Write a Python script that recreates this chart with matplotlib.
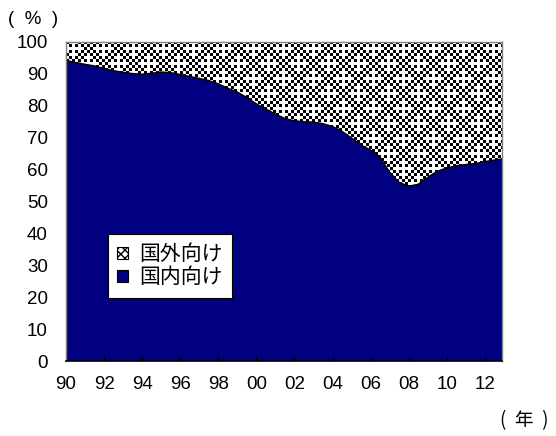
import numpy as np
import matplotlib
matplotlib.use("Agg")
import matplotlib.pyplot as plt
from matplotlib.patches import Patch

# Share of domestic-bound output (%), half-year readings
years = [1990.0, 1990.5, 1991.0, 1991.5, 1992.0, 1992.5, 1993.0, 1993.5,
         1994.0, 1994.5, 1995.0, 1995.5, 1996.0, 1996.5, 1997.0, 1997.5,
         1998.0, 1998.5, 1999.0, 1999.5, 2000.0, 2000.5, 2001.0, 2001.5,
         2002.0, 2002.5, 2003.0, 2003.5, 2004.0, 2004.5, 2005.0, 2005.5,
         2006.0, 2006.5, 2007.0, 2007.5, 2008.0, 2008.5, 2009.0, 2009.5,
         2010.0, 2010.5, 2011.0, 2011.5, 2012.0, 2012.5, 2012.9]
domestic = [94.2, 93.6, 93.0, 92.5, 91.7, 91.0, 90.5, 90.1,
            89.9, 90.2, 90.6, 90.4, 89.8, 89.2, 88.6, 87.9,
            86.9, 85.5, 84.3, 82.6, 80.6, 79.0, 77.4, 76.0,
            75.3, 75.0, 74.9, 74.4, 73.5, 72.0, 69.9, 67.7,
            66.1, 63.8, 59.2, 56.0, 54.8, 55.4, 57.6, 59.5,
            60.5, 61.2, 61.6, 61.9, 62.5, 63.0, 63.3]
tick_years = list(range(1990, 2013, 2))
tick_labels = ["90", "92", "94", "96", "98", "00", "02", "04", "06", "08", "10", "12"]
y_ticks = list(range(0, 101, 10))
label_foreign = "国外向け"
label_domestic = "国内向け"

NAVY = "#000080"
JP = ["Noto Sans CJK JP", "DejaVu Sans"]
NUM = ["Liberation Sans", "DejaVu Sans"]
FS = 13.5

fig = plt.figure(figsize=(5.56, 4.36), dpi=100)
ax = fig.add_axes([66 / 556, 1 - 361 / 436, 436 / 556, 319 / 436])

x0, x1 = years[0], years[-1]
ax.set_xlim(x0, x1)
ax.set_ylim(0, 100)

# lower band: domestic share
ax.fill_between(years, 0, domestic, facecolor=NAVY, edgecolor="none", zorder=2)

# upper band: foreign share, filled with a checker pattern with small white crosses
def checker_pattern(w_cells, h_cells, tile=10):
    i = np.arange(h_cells)[:, None]
    j = np.arange(w_cells)[None, :]
    black = ((i + j) % 2 == 0)
    for ci, cj in ((2, 2), (7, 7)):
        di = (i - ci) % tile
        dj = (j - cj) % tile
        di = np.minimum(di, tile - di)
        dj = np.minimum(dj, tile - dj)
        blank = ((di == 0) & (dj <= 2)) | ((dj == 0) & (di <= 2))
        black &= ~blank
    return black

cell_px = 3
w_px, h_px = 436, 319
pat = checker_pattern(w_px // cell_px + 1, h_px // cell_px + 1)
pat = np.repeat(np.repeat(pat, cell_px, axis=0), cell_px, axis=1)[:h_px, :w_px]
rgb = np.where(pat[..., None], 0.0, 1.0) * np.ones(3)
im = ax.imshow(rgb, extent=(x0, x1, 0, 100), aspect="auto",
               interpolation="nearest", origin="upper", zorder=1)
upper = ax.fill_between(years, domestic, 100, facecolor="none", edgecolor="none")
im.set_clip_path(upper.get_paths()[0], ax.transData)

# boundary between the two bands
ax.plot(years, domestic, color="black", lw=1.0, zorder=3)

# axes styling
ax.set_xticks(tick_years)
ax.set_xticklabels(tick_labels, fontfamily=NUM, fontsize=FS)
ax.set_yticks(y_ticks)
ax.set_yticklabels([str(v) for v in y_ticks], fontfamily=NUM, fontsize=FS)
ax.tick_params(axis="x", direction="in", length=4, width=0.8, color="black",
               pad=11, top=False)
ax.tick_params(axis="y", length=0, pad=13)
for s in ("top", "right", "left"):
    ax.spines[s].set_color("#808080")
    ax.spines[s].set_linewidth(1.0)
ax.spines["bottom"].set_color("black")
ax.spines["bottom"].set_linewidth(1.2)
for s in ax.spines.values():
    s.set_zorder(5)
ax.set_axisbelow(False)

# legend
h_for = Patch(facecolor="white", edgecolor="black", hatch="xxxx", lw=0.8)
h_dom = Patch(facecolor=NAVY, edgecolor="black", lw=0.8)
leg = ax.legend([h_for, h_dom], [label_foreign, label_domestic],
                loc="upper left", bbox_to_anchor=((108 - 66) / 436, (361 - 234) / 319),
                prop={"family": JP, "size": 15}, frameon=True, fancybox=False,
                edgecolor="black", framealpha=1.0, handlelength=0.5, handleheight=0.5,
                handletextpad=0.55, borderpad=0.45, labelspacing=0.05, borderaxespad=0)
leg.get_frame().set_linewidth(0.8)
leg.set_zorder(6)

# unit labels
fig.text(8 / 556, 1 - 20 / 436, "(  %  )", fontfamily=NUM, fontsize=FS,
         ha="left", va="center")
fig.text(500 / 556, 1 - 421 / 436, "(  年  )", fontfamily=JP, fontsize=FS,
         ha="left", va="center")

fig.savefig("out.png", dpi=100)
